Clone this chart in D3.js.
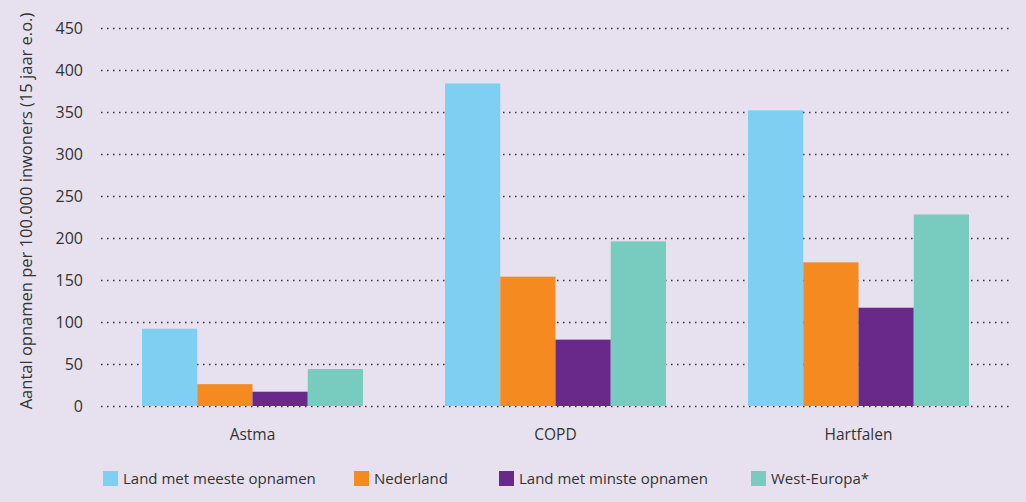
<!DOCTYPE html>
<html>
<head>
<meta charset="utf-8">
<script src="https://cdn.jsdelivr.net/npm/d3@7"></script>
<style>
  body { margin: 0; background: #e7e1ef; }
  svg { display: block; }
  text { font-family: "Open Sans", sans-serif; fill: #333; }
</style>
</head>
<body>
<div id="chart"></div>
<script>
var categories = ["Astma", "COPD", "Hartfalen"];
var seriesNames = ["Land met meeste opnamen", "Nederland", "Land met minste opnamen", "West-Europa*"];
var meeste = [92, 384, 352];
var nederland = [26, 154, 171];
var minste = [17, 79, 117];
var westEuropa = [44, 196, 228];
var yTicks = [0, 50, 100, 150, 200, 250, 300, 350, 400, 450];
var colours = ["#7fcff3", "#f58a21", "#68298a", "#78cbbf"];

var width = 1026, height = 502;
var svg = d3.select("#chart").append("svg")
  .attr("width", width)
  .attr("height", height);

svg.append("rect").attr("width", width).attr("height", height).attr("fill", "#e7e1ef");

var x0 = d3.scaleBand().domain(categories).range([101, 1010]).paddingInner(0).paddingOuter(0);
var x1 = d3.scaleBand().domain(seriesNames).range([0, 221]);
var y = d3.scaleLinear().domain([0, 450]).range([406, 28]);

// gridlines
svg.append("g").selectAll("line")
  .data(yTicks)
  .enter().append("line")
  .attr("x1", 101).attr("x2", 1010)
  .attr("y1", function(d) { return y(d) + 0.5; })
  .attr("y2", function(d) { return y(d) + 0.5; })
  .attr("stroke", "#333")
  .attr("stroke-width", 1.5)
  .attr("stroke-dasharray", "1.5,4.5");

// tick labels
svg.append("g").selectAll("text")
  .data(yTicks)
  .enter().append("text")
  .attr("x", 83)
  .attr("y", function(d) { return y(d); })
  .attr("dy", "0.35em")
  .attr("text-anchor", "end")
  .style("font-size", "16px")
  .text(function(d) { return d; });

// y label
svg.append("text")
  .attr("transform", "translate(32,211) rotate(-90)")
  .attr("text-anchor", "middle")
  .style("font-size", "16.5px")
  .text("Aantal opnamen per 100.000 inwoners (15 jaar e.o.)");

// bars
var series = [meeste, nederland, minste, westEuropa];
var groupOffset = (x0.bandwidth() - 221) / 2;
series.forEach(function(vals, si) {
  svg.append("g").selectAll("rect")
    .data(vals)
    .enter().append("rect")
    .attr("x", function(d, i) { return x0(categories[i]) + groupOffset + x1(seriesNames[si]); })
    .attr("width", x1.bandwidth())
    .attr("y", function(d) { return y(d); })
    .attr("height", function(d) { return y(0) - y(d); })
    .attr("fill", colours[si]);
});

// category labels
svg.append("g").selectAll("text")
  .data(categories)
  .enter().append("text")
  .attr("x", function(d) { return x0(d) + x0.bandwidth() / 2; })
  .attr("y", 440)
  .attr("text-anchor", "middle")
  .style("font-size", "15.5px")
  .text(function(d) { return d; });

// legend
var legendX = [103, 354, 499, 751];
var legend = svg.append("g").selectAll("g")
  .data(seriesNames)
  .enter().append("g")
  .attr("transform", function(d, i) { return "translate(" + legendX[i] + ",471)"; });
legend.append("rect")
  .attr("width", 15).attr("height", 15)
  .attr("fill", function(d, i) { return colours[i]; });
legend.append("text")
  .attr("x", 20).attr("y", 13)
  .style("font-size", "15px")
  .text(function(d) { return d; });
</script>
</body>
</html>
